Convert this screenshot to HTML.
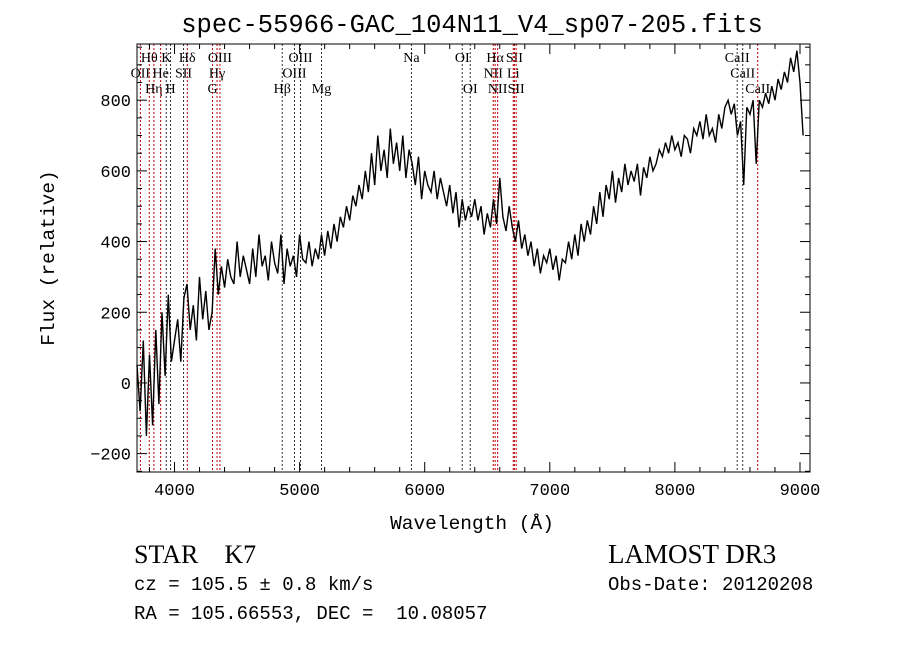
<!DOCTYPE html>
<html><head><meta charset="utf-8"><style>
body{margin:0;background:#fff;width:900px;height:649px;overflow:hidden}
svg text{font-family:"Liberation Mono",monospace;fill:#000;white-space:pre}
</style></head><body>
<svg id="c" width="900" height="649" xmlns="http://www.w3.org/2000/svg">
<text x="472" y="32" font-size="25.5" text-anchor="middle">spec-55966-GAC_104N11_V4_sp07-205.fits</text>
<text x="472" y="529" font-size="19.5" text-anchor="middle">Wavelength (Å)</text>
<text transform="translate(54,258) rotate(-90)" font-size="19.5" text-anchor="middle">Flux (relative)</text>
<text x="134" y="563" font-size="26" style="font-family:'Liberation Serif',serif">STAR    K7</text>
<text x="134" y="590" font-size="19">cz = 105.5 ± 0.8 km/s</text>
<text x="134" y="619" font-size="19">RA = 105.66553, DEC =  10.08057</text>
<text x="608" y="563" font-size="27" style="font-family:'Liberation Serif',serif">LAMOST DR3</text>
<text x="608" y="590" font-size="19">Obs-Date: 20120208</text>
<g id="lines"></g>
<g id="spec"></g>
<g id="axes"></g>
</svg>
<script>
const NS="http://www.w3.org/2000/svg";
const X0=137,X1=810,Y0=44,Y1=472;
const xMin=3700,xMax=9080,yMin=-252,yMax=959;
const xs=v=>X0+(v-xMin)/(xMax-xMin)*(X1-X0);
const ys=v=>Y1-(v-yMin)/(yMax-yMin)*(Y1-Y0);
const startWave=3700,stepWave=25;
const flux=[50,-80,120,-150,80,-120,150,-60,200,20,250,60,
120,180,60,240,280,150,220,120,300,180,260,150,
200,380,250,330,270,350,300,280,400,300,360,320,
280,380,300,420,330,360,290,400,340,310,420,280,
380,330,360,300,420,350,340,400,330,380,350,420,
360,430,380,450,400,470,440,500,460,530,500,560,
520,600,540,650,560,700,600,660,580,720,620,680,
600,700,580,660,620,560,640,520,600,560,540,600,
520,580,540,500,560,480,540,440,520,460,500,470,
520,460,500,420,480,440,520,450,580,470,430,500,
440,400,460,380,420,360,400,330,380,310,360,340,
380,320,360,290,350,340,400,350,420,360,450,400,
460,420,500,450,540,470,560,520,600,510,580,540,
620,560,600,570,620,530,610,580,640,600,620,660,
640,680,650,700,660,680,640,700,690,650,720,700,
740,690,760,700,720,680,760,720,780,800,760,790,
700,740,560,780,760,800,620,800,780,820,790,840,
800,860,830,880,850,920,880,940,850,700];
const lineWaves=[3727,3798,3835,3889,3934,3968,4072,4102,4304,4340,4363,4861,4959,5007,5175,5894,6300,6364,6548,6563,6583,6708,6717,6731,8498,8542,8662];
const lineNames=["OII","Hθ","Hη","He","K","H","SII","Hδ","G","Hγ","OIII","Hβ","OIII","OIII","Mg","Na","OI","OI","NII","Hα","NII","Li","SII","SII","CaII","CaII","CaII"];
const lineRows=[1,0,2,1,0,2,1,0,2,1,0,2,1,0,2,0,0,2,1,0,2,1,0,2,0,1,2];
const lineRed=[1,1,1,1,0,0,0,1,1,1,1,0,0,0,0,0,0,0,1,1,1,1,1,1,0,0,1];
const gL=document.getElementById('lines');
lineWaves.forEach((w,i)=>{
 const l=document.createElementNS(NS,'line');
 
 
 l.setAttribute('x1',xs(w));l.setAttribute('x2',xs(w));l.setAttribute('y1',Y0);l.setAttribute('y2',Y1);
 l.setAttribute('stroke',lineRed[i]?'#c00000':'#333');l.setAttribute('stroke-width','1');l.setAttribute('stroke-dasharray','2,2');
 gL.appendChild(l);
 const t=document.createElementNS(NS,'text');
 
 
 t.setAttribute('x',xs(w));t.setAttribute('y',62+lineRows[i]*15.5);t.setAttribute('text-anchor','middle');
 t.setAttribute('font-size','14');t.setAttribute('style','font-family:"Liberation Serif",serif');
 t.textContent=lineNames[i];gL.appendChild(t);
});
const p=document.createElementNS(NS,'polyline');


p.setAttribute('points',flux.map((f,i)=>xs(startWave+i*stepWave).toFixed(1)+','+ys(f).toFixed(1)).join(' '));
p.setAttribute('fill','none');p.setAttribute('stroke','#000');p.setAttribute('stroke-width','1.4');
document.getElementById('spec').appendChild(p);
const xTicks=[4000,5000,6000,7000,8000,9000];
const yTicks=[-200,0,200,400,600,800];
const gA=document.getElementById('axes');
function ln(x1,y1,x2,y2,n){const l=document.createElementNS(NS,'line');l.setAttribute('x1',x1);l.setAttribute('y1',y1);l.setAttribute('x2',x2);l.setAttribute('y2',y2);l.setAttribute('stroke','#000');l.setAttribute('stroke-width','1');


gA.appendChild(l);}
const fr=document.createElementNS(NS,'rect');


fr.setAttribute('x',X0);fr.setAttribute('y',Y0);fr.setAttribute('width',X1-X0);fr.setAttribute('height',Y1-Y0);fr.setAttribute('fill','none');fr.setAttribute('stroke','#000');
gA.appendChild(fr);
for(let w=3800;w<=9000;w+=200){const maj=w%1000===0,L=maj?10:5,x=xs(w);ln(x,Y1,x,Y1-L,'x-tick');ln(x,Y0,x,Y0+L,'x-tick-top');}
for(let v=-250;v<=950;v+=50){const maj=v%200===0,L=maj?10:5,y=ys(v);ln(X0,y,X0+L,y,'y-tick');ln(X1,y,X1-L,y,'y-tick-right');}
xTicks.forEach(w=>{const t=document.createElementNS(NS,'text');


t.setAttribute('x',xs(w));t.setAttribute('y',Y1+23);t.setAttribute('text-anchor','middle');t.setAttribute('font-size','17');t.textContent=w;gA.appendChild(t);});
yTicks.forEach(v=>{const t=document.createElementNS(NS,'text');


t.setAttribute('x',X0-6);t.setAttribute('y',ys(v)+6);t.setAttribute('text-anchor','end');t.setAttribute('font-size','17');t.textContent=v<0?'−'+(-v):v;gA.appendChild(t);});
</script>
</body></html>
